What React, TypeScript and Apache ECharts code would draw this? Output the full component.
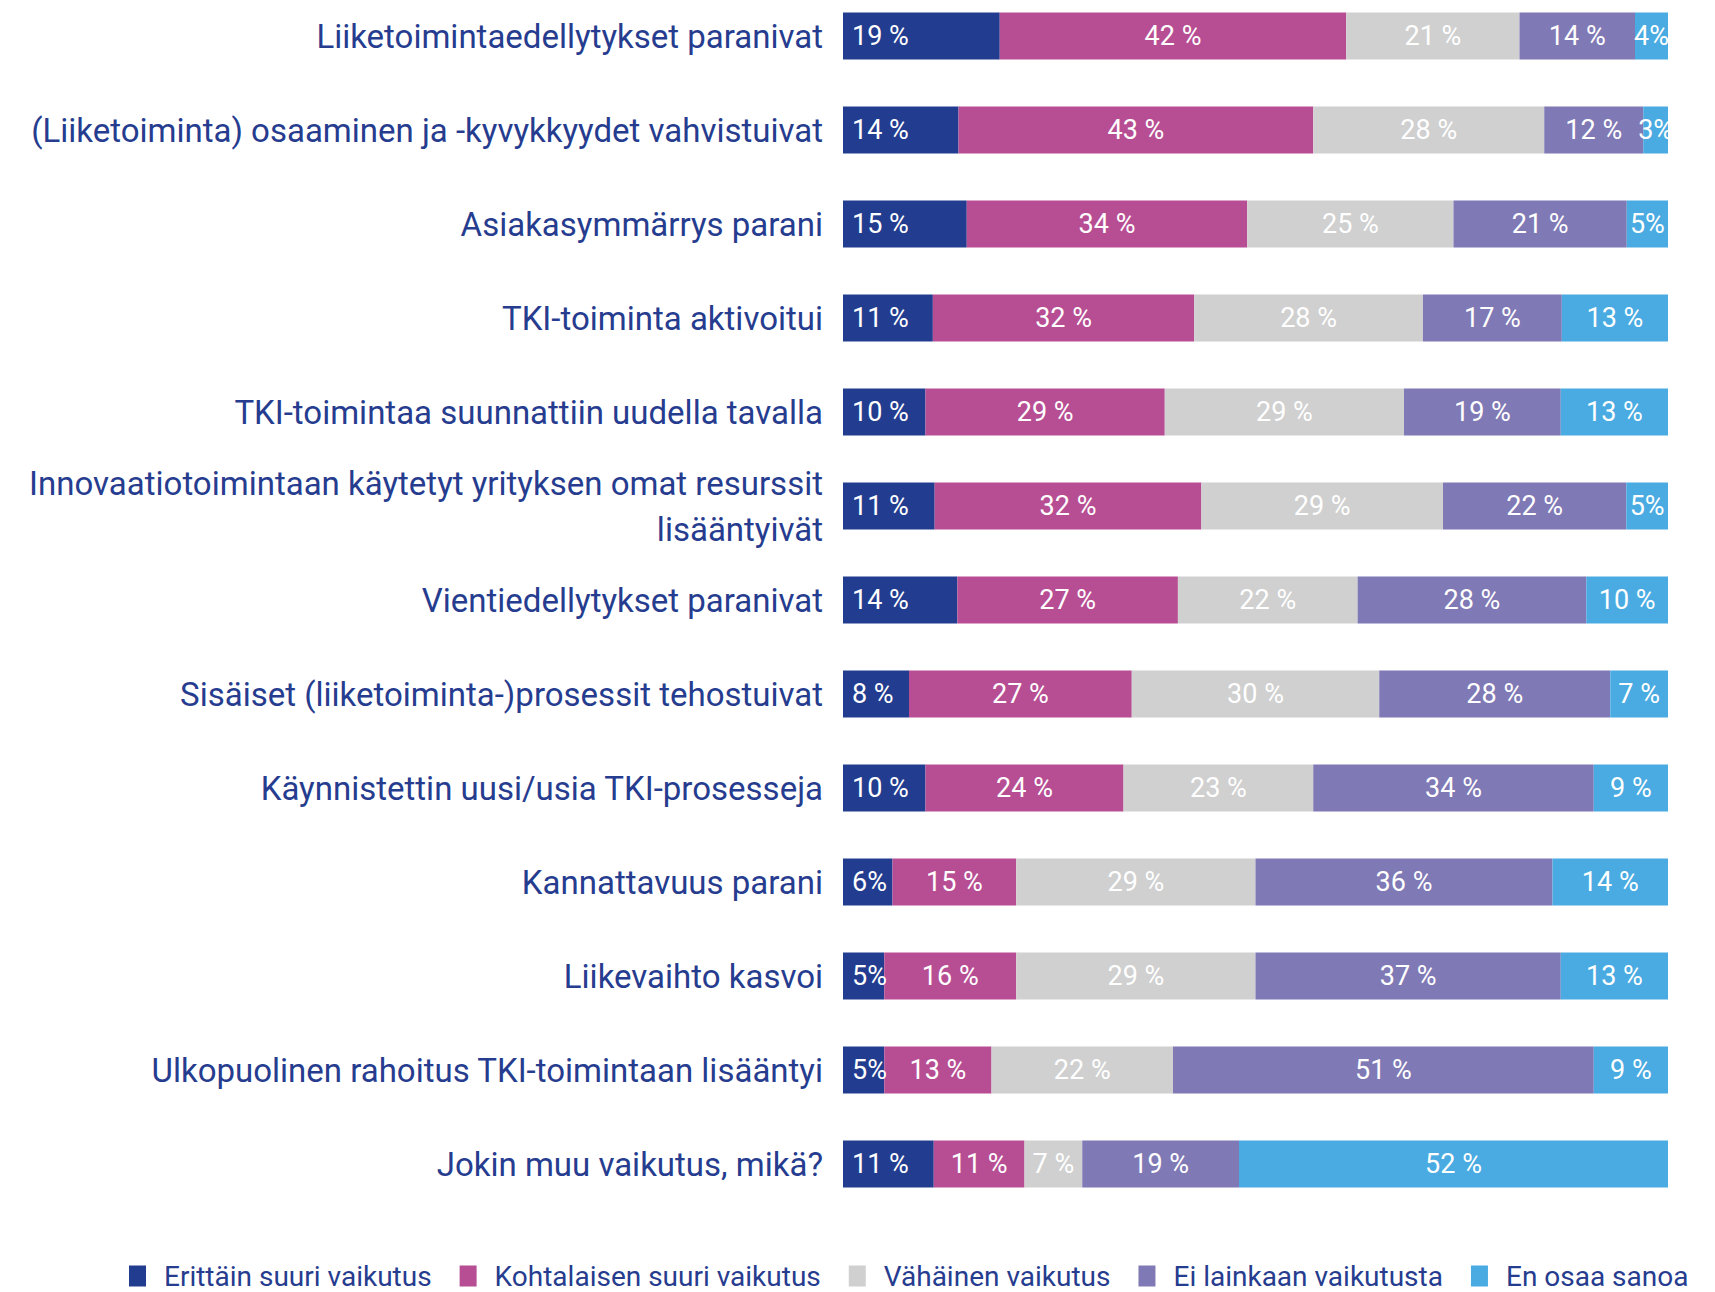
import React, { useEffect, useRef } from "react";
import * as echarts from "echarts";

const categories = [
  "Liiketoimintaedellytykset paranivat",
  "(Liiketoiminta) osaaminen ja -kyvykkyydet vahvistuivat",
  "Asiakasymmärrys parani",
  "TKI-toiminta aktivoitui",
  "TKI-toimintaa suunnattiin uudella tavalla",
  "Innovaatiotoimintaan käytetyt yrityksen omat resurssit\nlisääntyivät",
  "Vientiedellytykset paranivat",
  "Sisäiset (liiketoiminta-)prosessit tehostuivat",
  "Käynnistettin uusi/usia TKI-prosesseja",
  "Kannattavuus parani",
  "Liikevaihto kasvoi",
  "Ulkopuolinen rahoitus TKI-toimintaan lisääntyi",
  "Jokin muu vaikutus, mikä?",
];

const seriesNames = [
  "Erittäin suuri vaikutus",
  "Kohtalaisen suuri vaikutus",
  "Vähäinen vaikutus",
  "Ei lainkaan vaikutusta",
  "En osaa sanoa",
];

const erittain = [19, 14, 15, 11, 10, 11, 14, 8, 10, 6, 5, 5, 11];
const kohtalainen = [42, 43, 34, 32, 29, 32, 27, 27, 24, 15, 16, 13, 11];
const vahainen = [21, 28, 25, 28, 29, 29, 22, 30, 23, 29, 29, 22, 7];
const eiLainkaan = [14, 12, 21, 17, 19, 22, 28, 28, 34, 36, 37, 51, 19];
const enOsaa = [4, 3, 5, 13, 13, 5, 10, 7, 9, 14, 13, 9, 52];

const colors = ["#223c8f", "#b74e93", "#d0d0d0", "#7f79b5", "#49abe1"];

const FONT = "Roboto, 'Noto Sans', sans-serif";
const TEXT_BLUE = "#263c8f";

export default function App() {
  const ref = useRef<HTMLDivElement>(null);
  useEffect(() => {
    if (!ref.current) return;
    const chart = echarts.init(ref.current, undefined, { renderer: "svg" });
    const raw = [erittain, kohtalainen, vahainen, eiLainkaan, enOsaa];
    const sums = categories.map((_, i) => raw.reduce((s, arr) => s + arr[i], 0));
    const series = raw.map((arr, si) => ({
      name: seriesNames[si],
      type: "bar",
      stack: "total",
      barWidth: 47,
      itemStyle: { color: colors[si] },
      data: arr.map((v, i) => (v / sums[i]) * 100),
      label: {
        show: true,
        position: si === 0 ? "insideLeft" : "inside",
        distance: 9,
        color: "#ffffff",
        fontFamily: FONT,
        fontSize: 27,
        formatter: (p: any) => {
          const v = arr[p.dataIndex];
          return v <= 6 ? `${v}%` : `${v} %`;
        },
      },
    }));
    chart.setOption({
      animation: false,
      grid: { left: 843, right: 47, top: 0, bottom: 81, containLabel: false },
      xAxis: { type: "value", min: 0, max: 100, show: false },
      yAxis: {
        type: "category",
        inverse: true,
        data: categories,
        axisLine: { show: false },
        axisTick: { show: false },
        axisLabel: {
          margin: 20,
          color: TEXT_BLUE,
          fontFamily: FONT,
          fontSize: 33,
          lineHeight: 46,
          align: "right",
        },
      },
      legend: {
        left: 129,
        top: 1273,
        width: 1586,
        padding: 0,
        icon: "rect",
        itemWidth: 17,
        itemHeight: 21,
        itemGap: 28,
        textStyle: {
          color: TEXT_BLUE,
          fontFamily: FONT,
          fontSize: 28,
          padding: [0, 0, 0, 13],
        },
        data: seriesNames,
      },
      series,
    });
    return () => chart.dispose();
  }, []);
  return (
    <div
      ref={ref}
      style={{ position: "absolute", left: 0, top: -11, width: 1715, height: 1303 }}
    />
  );
}
